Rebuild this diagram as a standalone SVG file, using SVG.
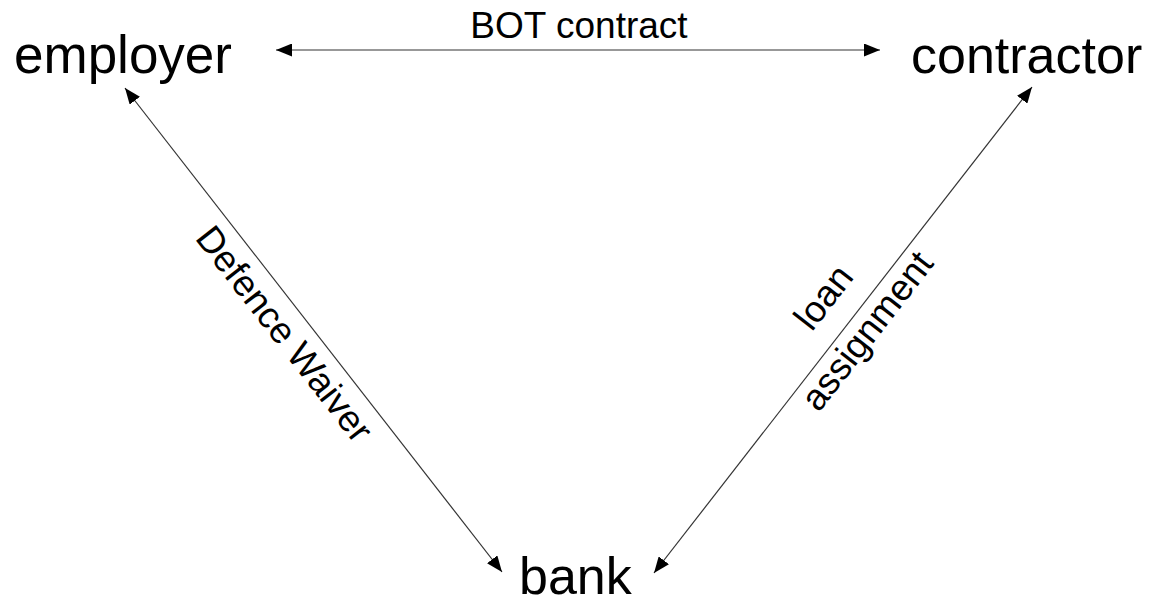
<svg xmlns="http://www.w3.org/2000/svg" width="1155" height="602" viewBox="0 0 1155 602">
  <style>
    .node { font-family: "Liberation Sans", Arial, sans-serif; font-size: 52px; fill: #000; }
    .lbl { font-family: "Liberation Sans", Arial, sans-serif; font-size: 37px; fill: #000; }
    .conn { stroke: #333; stroke-width: 1.2; fill: none; marker-start: url(#ah); marker-end: url(#ah); }
  </style>
  <defs>
    <marker id="ah" markerUnits="userSpaceOnUse" markerWidth="16" markerHeight="13" refX="16" refY="6.5" orient="auto-start-reverse">
      <path d="M0,0 L16,6.5 L0,13 z" fill="#000"/>
    </marker>
  </defs>
  <rect width="1155" height="602" fill="#fff"/>
  <g id="connectors">
    <line class="conn" x1="276" y1="50" x2="880" y2="50"/>
    <line class="conn" x1="125" y1="88" x2="502" y2="572"/>
    <line class="conn" x1="1032" y1="87" x2="654" y2="573"/>
  </g>
  <g id="labels">
    <text class="lbl" x="579" y="38" text-anchor="middle">BOT contract</text>
    <g transform="translate(304.3,318.4) rotate(52.1)">
      <text class="lbl" x="0" y="37.7" text-anchor="middle">Defence Waiver</text>
    </g>
    <g transform="translate(851.5,319) rotate(-52.1)">
      <text class="lbl" x="0" y="-23" text-anchor="middle">loan</text>
      <text class="lbl" x="0" y="32" text-anchor="middle">assignment</text>
    </g>
  </g>
  <g id="employer"><text class="node" x="14" y="73" style="font-size:53px">employer</text></g>
  <g id="contractor"><text class="node" x="911" y="73">contractor</text></g>
  <g id="bank"><text class="node" x="519" y="594">bank</text></g>
</svg>
